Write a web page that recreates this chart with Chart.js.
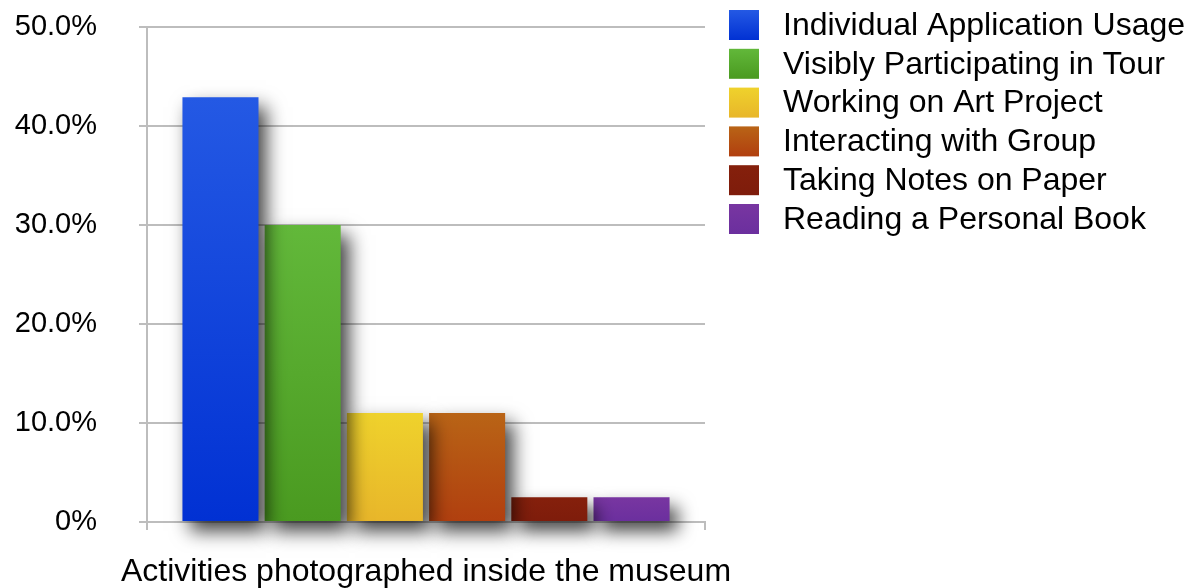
<!DOCTYPE html>
<html>
<head>
<meta charset="utf-8">
<script src="https://cdn.jsdelivr.net/npm/chart.js@4/dist/chart.umd.min.js"></script>
<style>
  html, body { margin: 0; padding: 0; background: #ffffff; }
  #wrap { width: 1190px; height: 588px; position: relative; }
</style>
</head>
<body>
<div id="wrap"><canvas id="c"></canvas></div>
<script>
// ---- data ----
const categories = ["Activities photographed inside the museum"];
const seriesNames = [
  "Individual Application Usage",
  "Visibly Participating in Tour",
  "Working on Art Project",
  "Interacting with Group",
  "Taking Notes on Paper",
  "Reading a Personal Book"
];
const seriesValues = [42.9, 30.0, 11.0, 11.0, 2.5, 2.5];
const yTickValues = [0, 10, 20, 30, 40, 50];

// ---- styles ----
const topColors    = ["#2459e4", "#62b83a", "#efd22c", "#b96416", "#85200c", "#7836a1"];
const bottomColors = ["#0131d3", "#4a9a20", "#e8b62a", "#b13f0f", "#7e1c0b", "#6b2f9e"];
const FONT = '"Liberation Sans", Arial, Helvetica, sans-serif';
const GRID = "#bdbdbd";

function barGradient(i) {
  return (ctx) => {
    const chart = ctx.chart;
    if (!chart.chartArea || ctx.raw === undefined) return topColors[i];
    const ys = chart.scales.y;
    const top = ys.getPixelForValue(ctx.raw);
    const bottom = ys.getPixelForValue(0);
    if (!isFinite(top) || !isFinite(bottom) || top === bottom) return topColors[i];
    const g = chart.ctx.createLinearGradient(0, top, 0, bottom);
    g.addColorStop(0, topColors[i]);
    g.addColorStop(1, bottomColors[i]);
    return g;
  };
}

const shadowPlugin = {
  id: "barShadow",
  beforeDatasetsDraw(chart) {
    const c = chart.ctx;
    c.save();
    c.shadowColor = "rgba(0,0,0,0.75)";
    c.shadowBlur = 18;
    c.shadowOffsetX = 8;
    c.shadowOffsetY = 10;
  },
  afterDatasetsDraw(chart) {
    chart.ctx.restore();
  }
};

const sideLegend = {
  id: "sideLegend",
  afterDraw(chart) {
    const c = chart.ctx;
    c.save();
    chart.data.datasets.forEach((ds, i) => {
      const y = 10 + i * 38.8;
      const g = c.createLinearGradient(0, y, 0, y + 30);
      g.addColorStop(0, topColors[i]);
      g.addColorStop(1, bottomColors[i]);
      c.fillStyle = g;
      c.fillRect(729, y, 30, 30);
      c.fillStyle = "#000";
      c.font = "32px " + FONT;
      c.textBaseline = "middle";
      c.textAlign = "left";
      c.fillText(ds.label, 783, y + 16);
    });
    c.restore();
  }
};

const datasets = seriesNames.map((name, i) => ({
  label: name,
  data: [seriesValues[i]],
  backgroundColor: barGradient(i),
  borderWidth: 0,
  clip: false
}));

new Chart(document.getElementById("c"), {
  type: "bar",
  data: { labels: categories, datasets: datasets },
  plugins: [shadowPlugin, sideLegend],
  options: {
    responsive: true,
    maintainAspectRatio: false,
    animation: false,
    events: [],
    layout: { padding: { top: 27, right: 485, bottom: 0, left: 0 } },
    categoryPercentage: 0.884,
    barPercentage: 0.925,
    plugins: {
      legend: { display: false },
      tooltip: { enabled: false },
      title: { display: false }
    },
    scales: {
      x: {
        offset: true,
        grid: { drawOnChartArea: false, drawTicks: true, tickLength: 8, color: GRID, lineWidth: 2 },
        border: { display: true, color: GRID, width: 2 },
        ticks: { color: "#000", font: { family: FONT, size: 32, lineHeight: 1.0 }, padding: 26, maxRotation: 0 },
        afterFit: (scale) => { scale.height = 66; scale.paddingLeft = 0; scale.paddingRight = 0; }
      },
      y: {
        min: 0,
        max: 50,
        afterBuildTicks: (scale) => { scale.ticks = yTickValues.map(v => ({ value: v })); },
        grid: { color: GRID, lineWidth: 2, tickLength: 8, drawTicks: true },
        border: { display: true, color: GRID, width: 2 },
        ticks: {
          color: "#000",
          font: { family: FONT, size: 29 },
          padding: 42,
          callback: (v) => v === 0 ? "0%" : v.toFixed(1) + "%"
        },
        afterFit: (scale) => { scale.width = 147; scale.paddingTop = 0; scale.paddingBottom = 0; }
      }
    }
  }
});
</script>
</body>
</html>
